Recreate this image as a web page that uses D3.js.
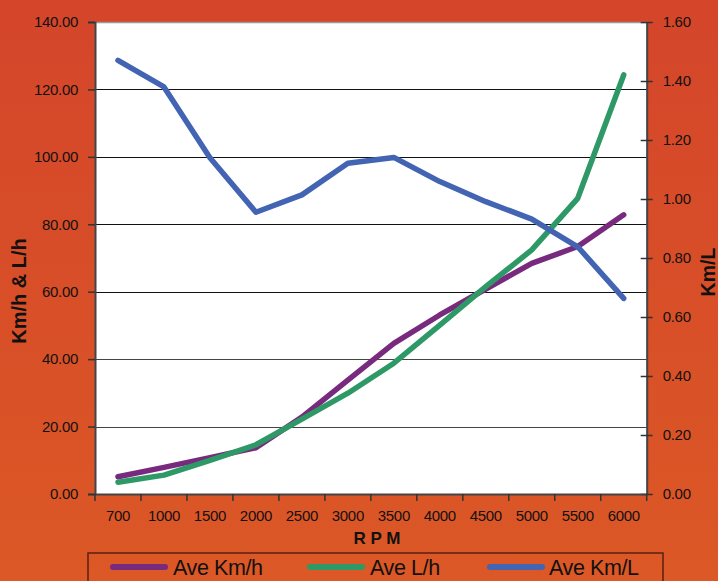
<!DOCTYPE html>
<html>
<head>
<meta charset="utf-8">
<script src="https://cdn.jsdelivr.net/npm/d3@7/dist/d3.min.js"></script>
<style>
  html, body { margin: 0; padding: 0; }
  body { width: 718px; height: 581px; overflow: hidden; }
  text { font-family: "Liberation Sans", Arial, sans-serif; fill: #111; }
</style>
</head>
<body>
<svg id="chart" width="718" height="581"></svg>
<script>
// Engine speed categories
const rpm = ["700", "1000", "1500", "2000", "2500", "3000", "3500", "4000", "4500", "5000", "5500", "6000"];
// Average speed (km/h) — left axis
const aveKmh = [5.1, 7.9, 10.8, 13.7, 22.8, 33.8, 44.7, 53.1, 60.8, 68.4, 73.4, 82.8];
// Average fuel flow (L/h) — left axis
const aveLh = [3.5, 5.6, 10.0, 14.6, 22.2, 29.9, 38.8, 50.1, 61.5, 72.4, 87.7, 124.3];
// Average economy (km/L) — right axis
const aveKmL = [1.47, 1.38, 1.14, 0.955, 1.014, 1.121, 1.141, 1.059, 0.991, 0.932, 0.838, 0.663];

const leftTicks = [0, 20, 40, 60, 80, 100, 120, 140];
const rightTicks = [0, 0.2, 0.4, 0.6, 0.8, 1.0, 1.2, 1.4, 1.6];

const series = [
  { name: "Ave Km/h", values: aveKmh, axis: "left", color: "#782a7f" },
  { name: "Ave L/h", values: aveLh, axis: "left", color: "#2e9966" },
  { name: "Ave Km/L", values: aveKmL, axis: "right", color: "#4264b3" }
];

const W = 718, H = 581;
const plot = { left: 95, top: 22, right: 646.7, bottom: 494 };

const svg = d3.select("#chart");

// Background gradient
const defs = svg.append("defs");
const grad = defs.append("linearGradient").attr("id", "bg")
  .attr("x1", 0).attr("y1", 0).attr("x2", 0).attr("y2", 1);
grad.append("stop").attr("offset", "0%").attr("stop-color", "#d4452a");
grad.append("stop").attr("offset", "100%").attr("stop-color", "#dc5826");
svg.append("rect").attr("width", W).attr("height", H).attr("fill", "url(#bg)");

// Scales
const x = d3.scaleBand().domain(rpm).range([plot.left, plot.right]).paddingInner(0).paddingOuter(0);
const yL = d3.scaleLinear().domain([0, 140]).range([plot.bottom, plot.top]);
const yR = d3.scaleLinear().domain([0, 1.6]).range([plot.bottom, plot.top]);

// Plot area
svg.append("rect")
  .attr("x", plot.left).attr("y", plot.top)
  .attr("width", plot.right - plot.left).attr("height", plot.bottom - plot.top)
  .attr("fill", "#ffffff");
svg.append("line")
  .attr("x1", plot.left).attr("x2", plot.right)
  .attr("y1", plot.top + 0.5).attr("y2", plot.top + 0.5)
  .attr("stroke", "#9a9a9a").attr("stroke-width", 1.5);

// Horizontal gridlines on left-axis values
svg.append("g").selectAll("line")
  .data(leftTicks.filter(d => d > 0 && d < 140))
  .join("line")
  .attr("x1", plot.left).attr("x2", plot.right)
  .attr("y1", d => Math.round(yL(d)) + 0.5).attr("y2", d => Math.round(yL(d)) + 0.5)
  .attr("stroke", (d) => d <= 40 ? "#444" : "#111").attr("stroke-width", 1.2);

// Left axis
const gL = svg.append("g").attr("transform", `translate(${plot.left},0)`)
  .call(d3.axisLeft(yL).tickValues(leftTicks).tickFormat(d3.format(".2f")).tickSize(7).tickPadding(10));
gL.select(".domain").attr("stroke", "#444").attr("stroke-width", 2);
gL.selectAll(".tick line").attr("stroke", "#333").attr("stroke-width", 1.5);
gL.selectAll(".tick text").attr("font-size", 15).attr("fill", "#111")
  .attr("font-family", "Liberation Sans, Arial, sans-serif").attr("letter-spacing", "-0.3px");

// Right axis
const gR = svg.append("g").attr("transform", `translate(${plot.right},0)`)
  .call(d3.axisRight(yR).tickValues(rightTicks).tickFormat(d3.format(".2f")).tickSizeInner(6).tickSizeOuter(0).tickPadding(10));
gR.selectAll(".tick line").attr("x1", -6).attr("stroke", "#333").attr("stroke-width", 1.5);
gR.select(".domain").attr("stroke", "#444").attr("stroke-width", 2);
gR.selectAll(".tick text").attr("font-size", 15).attr("fill", "#111")
  .attr("font-family", "Liberation Sans, Arial, sans-serif").attr("letter-spacing", "-0.3px");

// Bottom axis (ticks between categories)
const gB = svg.append("g").attr("transform", `translate(0,${plot.bottom})`)
  .call(d3.axisBottom(x).tickSize(0).tickPadding(16));
gB.select(".domain").attr("stroke", "#444").attr("stroke-width", 2);
gB.selectAll(".tick text").attr("font-size", 15).attr("fill", "#111")
  .attr("font-family", "Liberation Sans, Arial, sans-serif").attr("letter-spacing", "-0.3px");
const bounds = rpm.map(d => x(d)).concat([x(rpm[rpm.length - 1]) + x.bandwidth()]);
gB.append("g").selectAll("line").data(bounds).join("line")
  .attr("x1", d => d).attr("x2", d => d).attr("y1", 0).attr("y2", 7)
  .attr("stroke", "#333").attr("stroke-width", 1.5);

// Series lines
const cx = d => x(d) + x.bandwidth() / 2;
series.forEach(s => {
  const y = s.axis === "left" ? yL : yR;
  const line = d3.line().x((d, i) => cx(rpm[i])).y(d => y(d));
  svg.append("path")
    .datum(s.values)
    .attr("d", line)
    .attr("fill", "none")
    .attr("stroke", s.color)
    .attr("stroke-width", 5.5)
    .attr("stroke-linejoin", "round")
    .attr("stroke-linecap", "round");
});

// Axis titles
svg.append("text")
  .attr("transform", "translate(26,291) rotate(-90)")
  .attr("text-anchor", "middle").attr("font-weight", "bold").attr("font-size", 20)
  .text("Km/h & L/h");
svg.append("text")
  .attr("transform", "translate(715,272) rotate(-90)")
  .attr("text-anchor", "middle").attr("font-weight", "bold").attr("font-size", 19.5)
  .text("Km/L");
svg.append("text")
  .attr("x", 377).attr("y", 544)
  .attr("text-anchor", "middle").attr("font-weight", "bold").attr("font-size", 17)
  .text("R P M");

// Legend
svg.append("rect")
  .attr("x", 88).attr("y", 553).attr("width", 575).attr("height", 40)
  .attr("fill", "none").attr("stroke", "#5a1f12").attr("stroke-width", 1.5);
const legendPos = [
  { sx: 110, ex: 168, tx: 173 },
  { sx: 307, ex: 365, tx: 370 },
  { sx: 487, ex: 545, tx: 549 }
];
series.forEach((s, i) => {
  const p = legendPos[i];
  svg.append("line")
    .attr("x1", p.sx + 3).attr("x2", p.ex - 3).attr("y1", 567).attr("y2", 567)
    .attr("stroke", s.color).attr("stroke-width", 6).attr("stroke-linecap", "round");
  svg.append("text")
    .attr("x", p.tx).attr("y", 575)
    .attr("font-size", 21.5).attr("letter-spacing", "-0.4px")
    .text(s.name);
});
</script>
</body>
</html>
